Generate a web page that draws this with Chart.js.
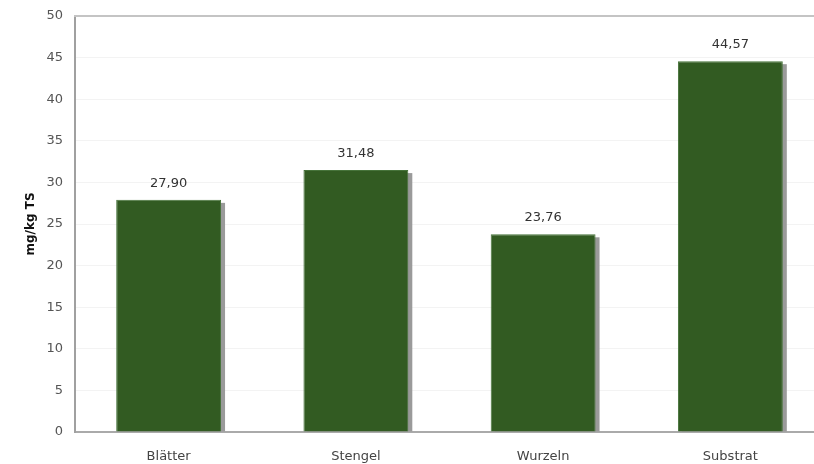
<!DOCTYPE html>
<html lang="de">
<head>
    <meta charset="UTF-8">
    <title>mg/kg TS</title>
    <script src="https://cdn.jsdelivr.net/npm/chart.js"></script>
    <style>
        body { margin: 0; overflow: hidden; background: #fff; }
        #wrap { width: 824px; height: 464px; }
    </style>
</head>
<body>
    <div id="wrap">
        <canvas id="tsChart" width="824" height="464"></canvas>
    </div>
    <script>
        // Werte je Probe
        var categories = ['Blätter', 'Stengel', 'Wurzeln', 'Substrat'];
        var values = [27.90, 31.48, 23.76, 44.57];
        var yTicks = [0, 5, 10, 15, 20, 25, 30, 35, 40, 45, 50];

        var font = 'DejaVu Sans, Verdana, sans-serif';

        // Schatten hinter den Balken, Rahmenlinie oben und Werte über den Balken
        var barExtras = {
            id: 'barExtras',
            beforeDatasetsDraw: function (chart) {
                var ctx = chart.ctx;
                var meta = chart.getDatasetMeta(0);
                ctx.save();
                ctx.fillStyle = '#9a9a9a';
                meta.data.forEach(function (bar) {
                    var w = bar.width;
                    ctx.fillRect(bar.x - w / 2 + 4, bar.y + 3, w, bar.base - bar.y - 3);
                });
                ctx.restore();
            },
            afterDatasetsDraw: function (chart) {
                var ctx = chart.ctx;
                var area = chart.chartArea;
                var meta = chart.getDatasetMeta(0);
                ctx.save();
                ctx.strokeStyle = '#c4c4c4';
                ctx.lineWidth = 2;
                ctx.beginPath();
                ctx.moveTo(area.left - 1, area.top);
                ctx.lineTo(area.right, area.top);
                ctx.stroke();

                ctx.fillStyle = '#333';
                ctx.font = '13px ' + font;
                ctx.textAlign = 'center';
                ctx.textBaseline = 'bottom';
                meta.data.forEach(function (bar, i) {
                    ctx.fillText(values[i].toFixed(2).replace('.', ','), bar.x, bar.y - 10);
                });
                ctx.restore();
            }
        };

        var ctx = document.getElementById('tsChart').getContext('2d');
        var tsChart = new Chart(ctx, {
            type: 'bar',
            data: {
                labels: categories,
                datasets: [{
                    data: values,
                    backgroundColor: '#325b22',
                    borderColor: '#46733a',
                    borderWidth: 1,
                    borderSkipped: 'bottom',
                    categoryPercentage: 1,
                    barPercentage: 0.56
                }]
            },
            options: {
                responsive: false,
                animation: false,
                layout: { padding: { top: 16, right: 0, left: 0, bottom: 0 } },
                plugins: {
                    legend: { display: false },
                    tooltip: { enabled: false }
                },
                scales: {
                    x: {
                        grid: { display: false },
                        border: { color: '#aaaaaa', width: 2 },
                        ticks: {
                            color: '#444',
                            font: { family: font, size: 13 },
                            padding: 9
                        },
                        afterFit: function (scale) { scale.height = 32; }
                    },
                    y: {
                        min: 0,
                        max: 50,
                        afterBuildTicks: function (scale) {
                            scale.ticks = yTicks.map(function (v) { return { value: v }; });
                        },
                        grid: { color: '#f3f3f3', drawTicks: false },
                        border: { color: '#a0a0a0', width: 2 },
                        ticks: {
                            color: '#555',
                            font: { family: font, size: 13 },
                            padding: 12
                        },
                        title: {
                            display: true,
                            text: 'mg/kg TS',
                            color: '#111',
                            font: { family: font, size: 12, weight: 'bold' },
                            padding: { top: 24, bottom: 0 }
                        },
                        afterFit: function (scale) {
                            scale.width = 75;
                            scale.paddingTop = 0;
                            scale.paddingBottom = 0;
                        }
                    }
                }
            },
            plugins: [barExtras]
        });
    </script>
</body>
</html>
